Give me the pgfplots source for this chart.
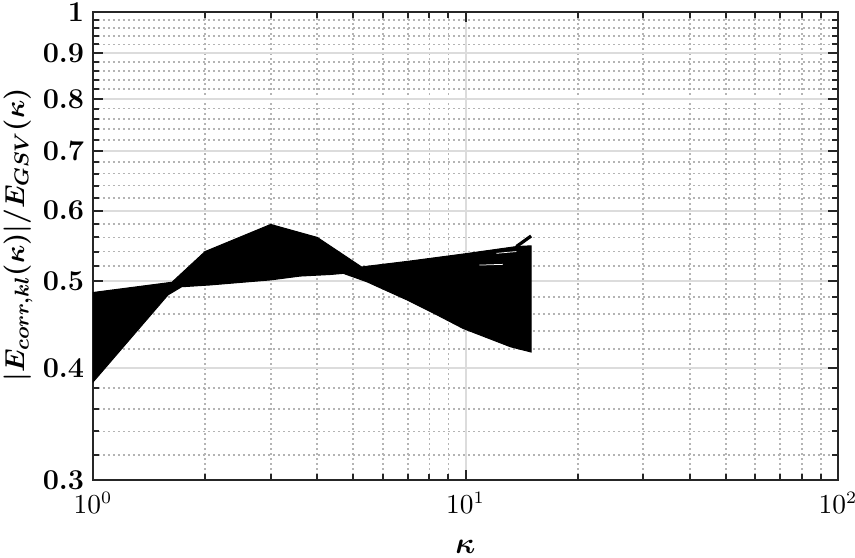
\documentclass[border=0pt]{standalone}
\usepackage{bm}
\usepackage{pgfplots}
\pgfplotsset{compat=1.18}
\definecolor{axgray}{RGB}{38,38,38}
\definecolor{majgrid}{RGB}{220,220,220}
\definecolor{mingrid}{RGB}{180,180,180}
\begin{document}
\begin{tikzpicture}
\begin{axis}[
  name=ax,
  xmode=log, ymode=log,
  scale only axis, width=298pt, height=187.2pt,
  xmin=1, xmax=100, ymin=0.3, ymax=1,
  axis line style={axgray, line width=0.8pt},
  ytick={0.3,0.4,0.5,0.6,0.7,0.8,0.9,1},
  yticklabels={\textbf{0.3},\textbf{0.4},\textbf{0.5},\textbf{0.6},\textbf{0.7},\textbf{0.8},\textbf{0.9},\textbf{1}},
  minor ytick={0.32,0.34,0.36,0.38,0.42,0.44,0.46,0.48,0.52,0.54,0.56,0.58,
    0.62,0.64,0.66,0.68,0.72,0.74,0.76,0.78,0.82,0.84,0.86,0.88,0.92,0.94,0.96,0.98},
  xtick={1,10,100}, xticklabels={$10^0$,$10^1$,$10^2$},
  minor xtick={2,3,4,5,6,7,8,9,20,30,40,50,60,70,80,90},
  grid=both,
  major grid style={majgrid, line width=0.8pt},
  minor grid style={mingrid, line width=0.7pt, dash pattern=on 0.8pt off 1.2pt},
  tick style={axgray, line width=0.8pt},
  major tick length=4pt, minor tick length=2.5pt,
  tick align=inside,
  yticklabel style={font=\fontsize{11.5}{13}\selectfont},
  xticklabel style={font=\fontsize{10.5}{12}\selectfont, yshift=-1.5pt},
  xlabel={$\bm{\kappa}$},
  ylabel={$\bm{|E_{corr,kl}(\kappa)|/E_{GSV}(\kappa)}$},
  xlabel style={font=\fontsize{12}{14}\selectfont,
    at={(axis description cs:0.5,-0.143)}, anchor=center},
  ylabel style={font=\fontsize{11}{13}\selectfont,
    at={(axis description cs:-0.1007,0.5235)}, anchor=center},
]
% band covered by the family of curves: upper edge, then lower edge backwards
\addplot[black, fill=black, line width=0.4pt] coordinates {
  (1,0.486) (1.63,0.499) (2,0.540) (3,0.579) (4,0.560) (5.26,0.519)
  (7.1,0.527) (10,0.537) (13.7,0.547) (15,0.548)
  (15,0.417) (13.2,0.4227) (9.86,0.443) (8.2,0.461) (6.95,0.477)
  (5.43,0.4997) (4.7,0.5105) (4.33,0.509) (3.6,0.507) (3,0.502)
  (2.06,0.4955) (1.73,0.4932) (1.59,0.483) (1,0.386) (1,0.486)
};
% top curve bending upward at the end
\addplot[black, line width=1.3pt] coordinates {(13.7,0.547) (15,0.562)};
% thin gaps between the curves
\addplot[white, line width=0.3pt] coordinates {(12.1,0.5375) (13.7,0.540)};
\addplot[white, line width=0.3pt] coordinates {(10.9,0.5215) (12.6,0.5225)};
\end{axis}
\pgfresetboundingbox
\path[use as bounding box] ([shift={(-37.2pt,-30.8pt)}]ax.south west)
  rectangle ([shift={(6.8pt,4.8pt)}]ax.north east);
\end{tikzpicture}
\end{document}
